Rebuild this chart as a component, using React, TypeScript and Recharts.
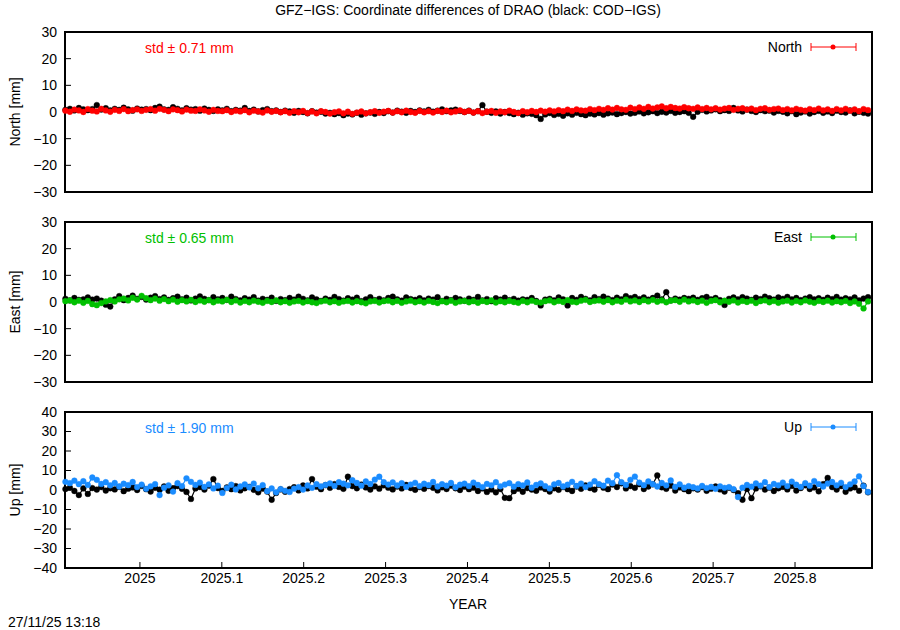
import React from 'react';
import { LineChart, Line, XAxis, YAxis, ReferenceArea } from 'recharts';

// daily solutions, every second day shown
const T0 = 2024.909;
const STEP = 2 / 365.25;
const X_DOMAIN: [number, number] = [2024.9085, 2025.894];

const yearTicks = [2025, 2025.1, 2025.2, 2025.3, 2025.4, 2025.5, 2025.6, 2025.7, 2025.8];
const ticks30 = [-30, -20, -10, 0, 10, 20, 30];
const ticks40 = [-40, -30, -20, -10, 0, 10, 20, 30, 40];

const northGfz = [
  0.5, 0.1, 0.9, 0.6, 0.0, 1.1, 0.5, 0.2, 1.2, 0.6,
  0.1, 0.8, 0.4, 1.1, 0.3, 0.7, 1.0, 0.4, 0.8, 1.1,
  0.5, 1.2, 0.8, 0.3, 1.0, 0.7, 0.2, 0.9, 0.5, 0.4,
  1.0, 0.6, 0.1, 0.8, 0.4, 0.3, 0.7, 0.0, 0.5, 0.2,
  0.7, -0.1, 0.5, 0.2, -0.2, 0.6, 0.1, 0.4, -0.1, 0.3,
  -0.3, 0.3, -0.1, 0.4, -0.4, 0.2, -0.5, 0.3, 0.0, -0.6,
  -0.1, 0.2, -0.5, 0.1, -0.7, -0.2, 0.2, -0.5, -0.1, 0.3,
  -0.3, 0.1, 0.4, -0.2, 0.3, -0.1, 0.5, 0.0, -0.3, 0.4,
  -0.1, 0.3, -0.2, 0.4, 0.0, 0.5, -0.1, 0.2, 0.6, 0.0,
  0.4, -0.2, 0.3, -0.4, 0.1, 0.4, -0.3, 0.2, -0.1, 0.5,
  0.0, -0.4, 0.3, -0.1, 0.4, 0.0, 0.5, 0.1, 0.6, 0.2,
  0.7, 0.3, 0.9, 0.4, 1.0, 0.6, 0.5, 1.1, 0.7, 1.2,
  0.8, 1.4, 0.9, 1.5, 1.0, 0.8, 1.6, 1.1, 1.7, 1.2,
  1.9, 1.3, 1.7, 2.1, 1.4, 1.9, 1.5, 1.3, 1.8, 1.4,
  1.2, 1.7, 1.1, 1.5, 1.0, 1.4, 0.9, 1.3, 1.5, 0.8,
  1.2, 1.4, 0.9, 1.3, 0.7, 1.2, 1.4, 0.8, 1.1, 1.3,
  0.7, 1.1, 0.6, 1.2, 0.8, 0.5, 1.1, 0.7, 1.3, 0.6,
  1.0, 0.4, 1.1, 0.6, 1.2, 0.5, 1.0, 0.3, 1.1, 0.7,
];
const northCod = [
  0.8, 1.2, 0.6, 1.5, 1.0, 0.7, 1.1, 2.6, 0.9, 1.4,
  0.6, 1.2, 0.8, 1.6, 1.0, 0.5, 1.3, 0.9, 1.1, 0.7,
  1.5, 2.0, 1.0, 0.8, 1.8, 1.2, 0.6, 1.4, 0.9, 1.1,
  0.5, 1.3, 0.8, 0.4, 1.0, 0.6, 1.2, 0.3, 0.8, 0.5,
  1.5, 0.4, 0.9, 0.2, 0.7, 1.1, 0.3, 0.6, 0.0, 0.5,
  0.2, -0.3, 0.4, 0.0, -0.5, 0.3, -0.2, 0.1, -0.6, -0.3,
  -0.8, -0.4, -1.2, -0.6, -0.9, -0.3, -1.0, -0.5, -0.2, -0.7,
  0.0, -0.4, 0.3, -0.2, 0.5, 0.1, -0.3, 0.4, 0.0, 0.6,
  0.2, 0.8, 0.1, 0.5, 1.0, 0.3, 0.6, 0.9, 0.4, 0.0,
  0.5, -0.2, 0.3, 2.6, 0.1, -0.3, 0.2, -0.6, 0.0, -0.4,
  -0.8, -0.3, -1.0, -0.5, -0.7, -1.2, -2.6, -0.9, -0.4, -1.1,
  -0.7, -1.4, -0.5, -1.0, -0.3, -0.8, -1.2, -0.6, -0.9, -0.4,
  -1.0, -0.5, -0.2, -0.8, -0.4, 0.0, -0.6, -0.3, 0.2, -0.5,
  -0.1, 0.3, -0.4, 0.1, -0.2, 0.4, -0.3, 0.0, 0.3, -0.3,
  -1.8, 0.1, 0.8, 0.2, 0.6, 1.0, 0.3, 0.7, 0.4, 1.5,
  0.6, 0.2, 0.9, 0.4, 0.0, 0.7, 0.3, 0.5, -0.2, 0.4,
  0.1, -0.5, 0.3, -0.8, -0.2, 0.2, -0.6, 0.0, 0.4, -0.3,
  0.2, -0.4, 0.5, 0.0, -0.2, 0.6, -0.5, 0.1, -0.3, -0.6,
];

const eastGfz = [
  0.3, 0.6, -0.1, 0.5, -0.3, 0.4, -0.8, -1.2, -0.4, 0.2,
  0.7, 0.2, 1.0, 1.3, 0.6, 1.6, 0.9, 2.3, 1.4, 0.7,
  1.3, 0.5, 1.1, 0.3, 0.9, 0.1, 0.7, 0.2, 0.8, 0.0,
  0.6, 0.1, 0.7, -0.1, 0.5, 0.2, 0.8, 0.0, 0.6, -0.2,
  0.4, -0.1, 0.5, 0.1, -0.3, 0.4, 0.0, 0.6, -0.1, 0.3,
  -0.3, 0.2, 0.4, -0.2, 0.3, -0.1, -0.4, 0.2, 0.5, -0.1,
  0.3, -0.3, 0.2, 0.4, -0.2, 0.3, -0.1, -0.5, 0.2, 0.4,
  -0.2, 0.3, 0.5, -0.1, 0.4, -0.3, 0.2, 0.5, -0.1, 0.3,
  -0.2, 0.4, 0.0, -0.4, 0.3, -0.1, 0.5, -0.3, 0.2, 0.4,
  -0.1, 0.3, -0.3, 0.4, 0.0, 0.6, -0.2, 0.3, -0.1, 0.4,
  0.0, -0.3, 0.4, -0.1, 0.5, 0.0, -0.2, 0.3, 0.6, -0.1,
  0.4, 0.0, 0.7, 0.1, -0.1, 0.5, 0.8, 0.0, 0.4, 0.6,
  0.1, 0.7, -0.1, 0.5, 0.1, 0.9, 0.2, 0.6, 0.0, 0.7,
  0.2, 0.8, 0.1, 0.6, -0.1, 0.5, 0.7, 0.1, 0.9, 0.2,
  0.6, 0.0, 0.5, -0.3, 0.4, 0.7, -0.1, 0.5, 0.1, 0.6,
  -0.2, 0.4, 0.0, 0.5, -0.4, 0.3, 0.6, -0.1, 0.4, -0.3,
  0.2, 0.5, -0.2, 0.4, -0.1, 0.6, 0.1, -0.3, 0.4, 0.0,
  0.5, -0.2, 0.3, -0.1, 0.4, -0.4, 0.2, -0.7, -2.4, 0.2,
];
const eastCod = [
  1.2, 0.6, 1.5, 0.8, 1.0, 1.7, 0.9, 1.3, 0.5, -1.0,
  -1.7, 1.0, 2.2, 0.7, 1.5, 2.4, 1.2, 1.9, 0.9, 1.6,
  2.2, 1.1, 1.7, 0.8, 1.4, 2.0, 1.0, 1.6, 0.6, 1.3,
  2.1, 1.2, 0.7, 1.8, 1.0, 1.5, 0.8, 2.0, 1.1, 0.6,
  1.4, 0.9, 1.8, 0.5, 1.2, 0.8, 1.6, 0.4, 1.1, 0.7,
  1.5, 0.9, 2.0, 1.2, 0.6, 1.7, 1.0, 0.4, 1.3, 0.8,
  1.9, 1.1, 0.5, 1.4, 0.9, 1.6, 0.3, 1.0, 1.8, 0.7,
  1.2, 0.6, 1.5, 2.0, 1.0, 0.5, 1.7, 1.1, 0.8, 1.4,
  0.6, 1.3, 0.9, 1.8, 0.4, 1.2, 0.7, 1.5, 1.0, 0.5,
  1.3, 0.8, 1.9, 0.6, 1.1, 0.3, 1.4, 0.9, 1.6, 0.7,
  1.2, 0.5, 1.0, 0.8, 1.5, 0.4, -1.3, 0.9, 1.2, 0.6,
  1.7, 1.0, -1.3, 1.5, 0.8, 1.9, 1.2, 0.6, 1.8, 1.1,
  2.0, 1.3, 0.7, 1.6, 1.0, 2.2, 1.4, 1.9, 1.1, 1.7,
  0.9, 1.5, 2.4, 1.0, 3.7, 0.6, 1.3, 0.9, 1.5, 1.2,
  1.6, 0.8, 1.4, 1.9, 1.0, 1.5, 0.7, -1.1, 1.2, 1.7,
  1.0, 1.8, 1.3, 0.8, 1.6, 1.1, 2.0, 1.4, 0.9, 1.7,
  1.2, 1.9, 1.0, 1.5, 0.7, 1.3, 1.8, 1.0, 1.4, 0.8,
  1.6, 1.1, 1.9, 0.9, 1.4, 1.0, 1.7, 0.6, 1.3, 1.8,
];

const upGfz = [
  4.2, 3.5, 4.8, 3.0, 4.5, 2.6, 6.4, 5.2, 3.1, 4.0,
  2.4, 3.6, 1.8, 3.2, 2.5, 4.1, 1.5, 2.8, 0.6, 1.9,
  3.0, -2.6, 1.2, 2.4, -0.8, 3.5, 2.0, 6.0, 4.2, 2.6,
  3.8, 1.6, 2.9, 0.8, 2.2, -1.5, 1.0, 2.7, 0.3, 1.8,
  2.9, 1.4, 3.3, 0.9, 2.5, -0.6, 0.8, -1.2, 0.5, -0.4,
  -1.0, 0.7, 1.5, 0.2, 2.3, 1.1, 3.0, 1.8, 2.6, 3.4,
  2.1, 4.0, 3.2, 2.4, 5.0, 3.6, 2.2, 4.4, 3.1, 5.3,
  6.8, 4.0, 2.8, 3.9, 2.3, 3.5, 1.6, 2.8, 3.7, 2.0,
  3.2, 2.5, 4.1, 1.8, 3.0, 2.2, 3.6, 1.4, 2.7, 3.3,
  2.0, 3.8, 2.6, 1.5, 3.1, 2.4, 4.0, 1.9, 2.8, 3.5,
  1.7, 3.0, 2.3, 3.9, 1.2, 2.6, 3.4, 2.0, 0.8, 2.9,
  3.6, 1.8, 2.7, 4.2, 2.1, 3.3, 1.5, 2.8, 4.5, 3.0,
  2.2, 4.8, 3.5, 7.6, 4.0, 2.6, 5.2, 6.9, 3.8, 2.5,
  4.4, 3.0, 1.8, 3.6, 2.4, 4.9, 1.6, 2.9, 1.2, 2.0,
  1.4, 0.8, 2.1, 1.0, 1.6, 0.6, 1.9, 1.1, 1.5, 0.4,
  -3.6, 1.2, 2.6, 1.7, 3.4, 2.2, 4.0, 1.5, 3.1, 2.4,
  3.8, 2.0, 4.3, 2.7, 1.6, 3.5, 2.2, 4.6, 3.0, 1.8,
  3.3, 4.1, 2.4, 3.7, 1.5, 2.9, 4.4, 7.0, 2.0, -1.0,
];
const upCod = [
  0.5, 1.2, -0.5, -2.6, 0.8, -2.0, 1.0, 0.2, 1.5, -0.3,
  0.9, 0.3, 1.6, -0.6, 0.7, 1.3, 0.0, 2.1, 0.4, -0.8,
  1.1, 0.2, 1.8, -0.4, 0.9, 2.0, 0.6, -1.0, -4.6, 0.8,
  1.5, 0.2, 2.2, 5.6, 1.0, -0.5, 1.3, 0.4, 2.0, -0.2,
  0.9, 1.6, 0.1, -1.2, 0.7, -0.8, -5.0, -1.5, 0.3, -0.9,
  0.5, 1.4, -0.2, 2.3, 0.8, 5.6, 1.7, 0.4, 2.5, 1.1,
  3.0, 1.6, 0.6, 6.8, 2.0, 0.9, 2.8, 1.3, 0.2, 1.9,
  0.7, 2.4, 1.2, 0.3, 1.8, 0.8, 2.6, 1.0, 0.1, 1.5,
  0.6, 2.0, 1.1, -0.2, 1.4, 0.5, 2.2, 0.9, 0.0, 1.7,
  0.4, 1.2, -0.5, 0.8, -1.0, 0.3, -1.2, 0.5, -4.0, -4.2,
  -0.6, 0.7, -0.9, 1.0, 0.2, -0.4, 1.3, 0.5, -0.8, 0.9,
  0.1, 1.5, 0.4, -0.5, 1.8, 0.6, 2.3, 1.0, 0.2, 2.6,
  1.2, 0.4, 2.8, 1.5, 3.4, 0.8, 2.0, 1.1, 3.0, 0.5,
  1.8, 2.9, 7.5, 1.4, 0.6, 2.2, -0.3, 1.3, 0.4, -0.6,
  0.9, 0.2, 1.5, -0.4, 0.7, 1.8, 0.3, -0.8, 1.1, 0.0,
  -1.6, -5.0, 0.5, -4.2, 0.8, 1.9, 0.2, 1.2, -0.5, 0.9,
  1.6, 0.3, 2.1, -0.3, 1.0, 2.4, 0.5, 1.3, -0.7, 3.0,
  6.2, 1.5, 0.2, 2.0, -0.9, 0.8, 1.4, -0.4, 2.2, -1.2,
];

const FONT = '"Liberation Sans", Arial, sans-serif';

const buildRows = (gfz: number[], cod: number[]) =>
  gfz.map((v, i) => ({ t: T0 + i * STEP, gfz: v, cod: cod[i] }));

const fmtNum = (v: number) => (v < 0 ? '\u2212' + Math.abs(v) : String(v));
const fmtYear = (v: number) => String(Number(v.toFixed(1)));

const noLabel = () => <g />;

interface PanelProps {
  top: number;
  plotHeight: number;
  gfz: number[];
  cod: number[];
  color: string;
  yTicks: number[];
  std: string;
  name: string;
  yLabel: string;
  showX?: boolean;
}

function Panel({ top, plotHeight, gfz, cod, color, yTicks, std, name, yLabel, showX }: PanelProps) {
  const rows = buildRows(gfz, cod);
  const yDomain: [number, number] = [yTicks[0], yTicks[yTicks.length - 1]];
  const bottom = showX ? 5 : 10;
  const xh = showX ? 30 : 0;
  const height = 10 + plotHeight + xh + bottom;
  return (
    <>
      <div style={{ position: 'absolute', left: 0, top: top - 10, width: 900, height }}>
        <LineChart width={900} height={height} data={rows} margin={{ top: 10, right: 0, bottom, left: 0 }}>
          <XAxis
            dataKey="t"
            type="number"
            domain={X_DOMAIN}
            ticks={yearTicks}
            interval={0}
            hide={!showX}
            height={xh}
            tickSize={-6}
            tickMargin={11}
            tickFormatter={fmtYear}
            axisLine={false}
            tickLine={{ stroke: '#000' }}
            tick={{ fill: '#000', fontSize: 14 }}
          />
          <YAxis
            yAxisId="l"
            domain={yDomain}
            ticks={yTicks}
            interval={0}
            width={65}
            tickSize={-6}
            tickMargin={14}
            tickFormatter={fmtNum}
            axisLine={false}
            tickLine={{ stroke: '#000' }}
            tick={{ fill: '#000', fontSize: 14 }}
          />
          <YAxis
            yAxisId="r"
            orientation="right"
            domain={yDomain}
            ticks={yTicks}
            interval={0}
            width={28}
            tickSize={-6}
            axisLine={false}
            tickLine={{ stroke: '#000' }}
            tick={noLabel}
          />
          <Line
            yAxisId="l"
            dataKey="cod"
            type="linear"
            stroke="#000"
            strokeWidth={1.2}
            dot={{ r: 2.9, fill: '#000', stroke: '#000', strokeWidth: 0.4 }}
            isAnimationActive={false}
          />
          <Line
            yAxisId="l"
            dataKey="gfz"
            type="linear"
            stroke={color}
            strokeWidth={1.2}
            dot={{ r: 2.9, fill: color, stroke: color, strokeWidth: 0.4 }}
            isAnimationActive={false}
          />
          <ReferenceArea
            yAxisId="l"
            x1={X_DOMAIN[0]}
            x2={X_DOMAIN[1]}
            y1={yDomain[0]}
            y2={yDomain[1]}
            fill="none"
            fillOpacity={0}
            stroke="#000"
            strokeWidth={2}
          />
        </LineChart>
      </div>
      <div style={{ position: 'absolute', left: 145, top: top + 8, fontSize: 14, lineHeight: '16px', color }}>{std}</div>
      <div style={{ position: 'absolute', right: 900 - 802, top: top + 7, fontSize: 14, lineHeight: '16px', color: '#000' }}>{name}</div>
      <svg style={{ position: 'absolute', left: 808, top: top + 8 }} width={52} height={14}>
        <line x1={3} y1={7} x2={48} y2={7} stroke={color} strokeWidth={1} />
        <line x1={3} y1={3} x2={3} y2={11} stroke={color} strokeWidth={1} />
        <line x1={48} y1={3} x2={48} y2={11} stroke={color} strokeWidth={1} />
        <circle cx={25} cy={7} r={2.5} fill={color} />
      </svg>
      <div
        style={{
          position: 'absolute',
          left: 15,
          top: top + plotHeight / 2,
          fontSize: 14,
          lineHeight: '16px',
          whiteSpace: 'nowrap',
          transform: 'translate(-50%, -50%) rotate(-90deg)',
        }}
      >
        {yLabel}
      </div>
    </>
  );
}

export default function App() {
  return (
    <div style={{ position: 'absolute', left: 0, top: 0, width: 900, height: 630, background: '#fff', fontFamily: FONT, color: '#000' }}>
      <div style={{ position: 'absolute', left: 0, width: 936, top: 2, textAlign: 'center', fontSize: 14, lineHeight: '16px' }}>
        GFZ{'\u2212'}IGS: Coordinate differences of DRAO (black: COD{'\u2212'}IGS)
      </div>
      <Panel top={32} plotHeight={160} gfz={northGfz} cod={northCod} color="#ff0000" yTicks={ticks30} std="std ± 0.71 mm" name="North" yLabel="North [mm]" />
      <Panel top={222} plotHeight={160} gfz={eastGfz} cod={eastCod} color="#00c000" yTicks={ticks30} std="std ± 0.65 mm" name="East" yLabel="East [mm]" />
      <Panel top={412} plotHeight={156} gfz={upGfz} cod={upCod} color="#1a8cff" yTicks={ticks40} std="std ± 1.90 mm" name="Up" yLabel="Up [mm]" showX />
      <div style={{ position: 'absolute', left: 0, width: 936, top: 596, textAlign: 'center', fontSize: 14, lineHeight: '16px' }}>YEAR</div>
      <div style={{ position: 'absolute', left: 8, top: 614, fontSize: 14, lineHeight: '16px' }}>27/11/25 13:18</div>
    </div>
  );
}
